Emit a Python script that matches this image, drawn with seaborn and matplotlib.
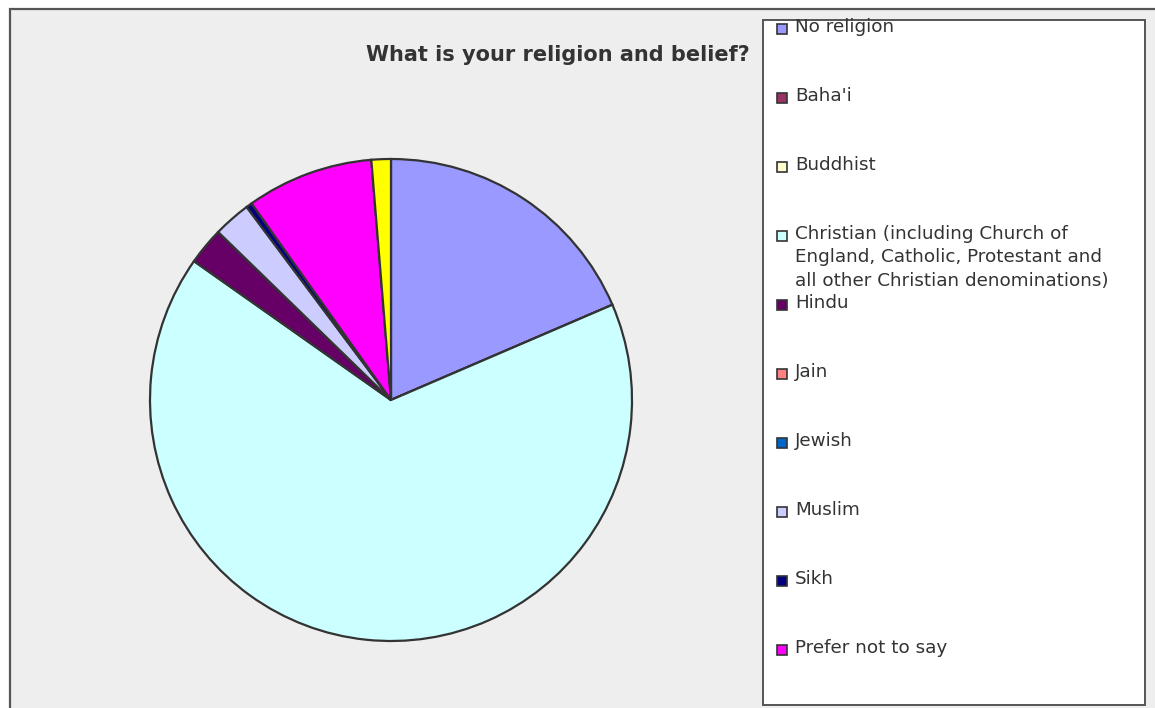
#!/usr/bin/env python3
"""
Pie chart of survey answers: religion and belief.
"""
import seaborn as sns
import matplotlib.pyplot as plt
from matplotlib.patches import Rectangle

sns.set_theme(style='white')
plt.rcParams['font.family'] = ['DejaVu Sans']

# shares in percent (clockwise from 12 o'clock)
categories = ["No religion", "Baha'i", "Buddhist",
              "Christian (including Church of\nEngland, Catholic, Protestant and\nall other Christian denominations)",
              "Hindu", "Jain", "Jewish", "Muslim", "Sikh", "Prefer not to say", "Other"]
shares = [18.5, 0.0, 0.0, 66.1, 2.5, 0.0, 0.0, 2.5, 0.4, 8.5, 1.3]
colors = ["#9999FF", "#993366", "#FFFFCC", "#CCFFFF", "#660066", "#FF8080",
          "#0066CC", "#CCCCFF", "#000080", "#FF00FF", "#FFFF00"]
legend_count = 10  # the last entry falls outside the legend box

W, H = 1155, 708
fig = plt.figure(figsize=(W / 100, H / 100), dpi=100, facecolor='white')


def px(x0, y0, x1, y1):
    """pixel box (top-left origin) -> figure fraction rect"""
    return [x0 / W, 1 - y1 / H, (x1 - x0) / W, (y1 - y0) / H]


# chart area
l, b, w, h = px(10, 9, W + 5, H + 5)
fig.patches.append(Rectangle((l, b), w, h, transform=fig.transFigure,
                             facecolor='#EEEEEE', edgecolor='#555555', lw=1.6, zorder=0))

# legend box
l, b, w, h = px(763, 20, 1145, 705)
fig.patches.append(Rectangle((l, b), w, h, transform=fig.transFigure,
                             facecolor='white', edgecolor='#555555', lw=1.4, zorder=1))

cx, cy, r = 391, 400, 241
ax = fig.add_axes(px(cx - r, cy - r, cx + r, cy + r))
ax.set_zorder(5)
ax.set_facecolor('none')
ax.pie(shares, colors=colors, startangle=90, counterclock=False,
       wedgeprops=dict(edgecolor='#333333', linewidth=1.6))
ax.set_xlim(-1, 1)
ax.set_ylim(-1, 1)
ax.set_aspect('equal')
ax.axis('off')

fig.text(558 / W, 1 - 55 / H, "What is your religion and belief?", ha='center', va='center',
         fontsize=15, fontweight='bold', color='#333333', zorder=6)

# legend entries, evenly spaced like the spreadsheet legend
y_first, step = 29, 69.0
for i in range(legend_count):
    y = y_first + i * step
    fig.patches.append(Rectangle((777 / W, 1 - (y + 5) / H), 10 / W, 10 / H,
                                 transform=fig.transFigure, facecolor=colors[i],
                                 edgecolor='#333333', lw=1.2, zorder=2))
    fig.text(795 / W, 1 - (y - 11) / H, categories[i], ha='left', va='top',
             fontsize=13.2, color='#333333', linespacing=1.38, zorder=3)

fig.savefig('out.png', dpi=100, facecolor='white')
